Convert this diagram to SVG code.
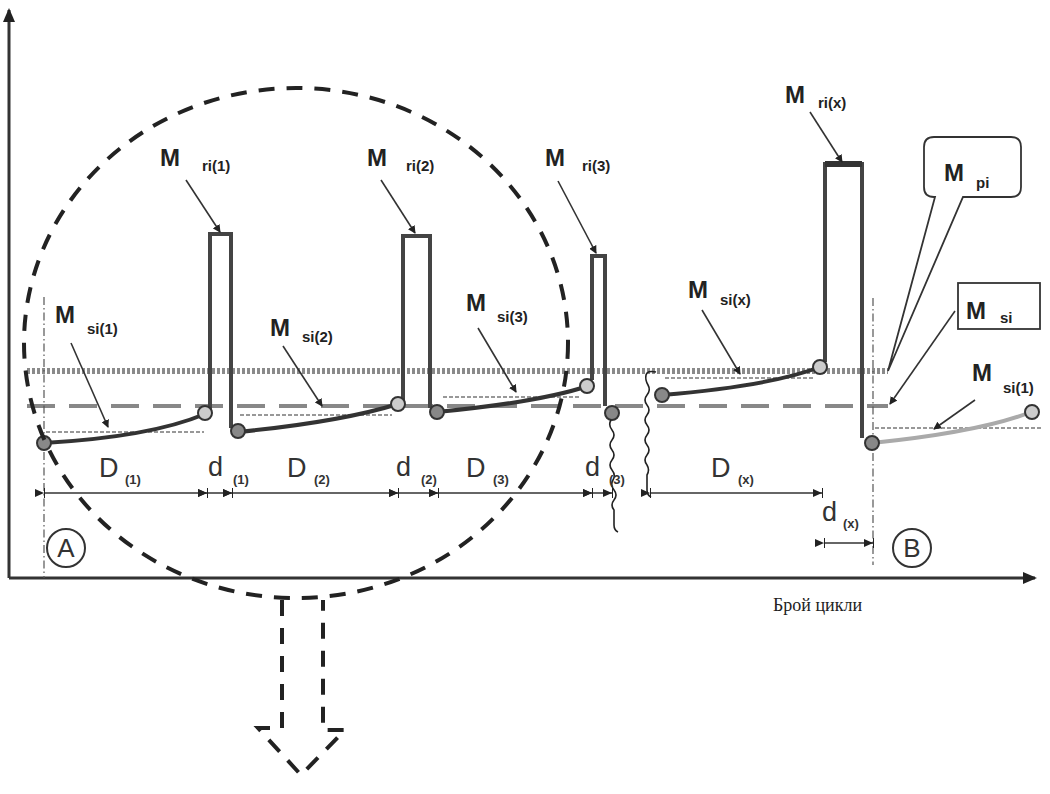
<svg xmlns="http://www.w3.org/2000/svg" width="1050" height="794" viewBox="0 0 1050 794">
<defs>
<marker id="ah" markerWidth="8" markerHeight="8" refX="7" refY="4" orient="auto" markerUnits="userSpaceOnUse"><path d="M0,0 L8,4 L0,8 z" fill="#222"/></marker>
<marker id="axh" markerWidth="14" markerHeight="12" refX="12" refY="6" orient="auto" markerUnits="userSpaceOnUse"><path d="M0,0 L14,6 L0,12 z" fill="#222"/></marker>
<marker id="dh" markerWidth="10" markerHeight="10" refX="9" refY="5" orient="auto" markerUnits="userSpaceOnUse"><path d="M0,1 L9,5 L0,9 z M9,0 L10,0 L10,10 L9,10 z" fill="#222"/></marker>
<style>
.axis{stroke:#333;stroke-width:3;fill:none}
.dot{stroke:#8a8a8a;stroke-width:6;stroke-dasharray:3 2;fill:none}
.dash{stroke:#888;stroke-width:4;stroke-dasharray:28 14;fill:none}
.dd{stroke:#555;stroke-width:1.2;stroke-dasharray:8 3 1.5 3;fill:none}
.thin{stroke:#333;stroke-width:1.2;stroke-dasharray:4 2;fill:none}
.pulse{stroke:#444;stroke-width:4;fill:none}
.curve{stroke:#333;stroke-width:4;fill:none}
.ptr{stroke:#333;stroke-width:1.6;fill:none;marker-end:url(#ah)}
.dim{stroke:#333;stroke-width:1.5;fill:none;marker-start:url(#dh);marker-end:url(#dh)}
.cd{fill:#888;stroke:#333;stroke-width:2}
.cl{fill:#ccc;stroke:#333;stroke-width:2}
.big{stroke:#222;stroke-width:4;stroke-dasharray:16 12;fill:none}
.wave{stroke:#222;stroke-width:1.6;fill:none}
.M{font-family:"Liberation Sans",Arial,sans-serif;font-weight:bold;font-size:24px;fill:#222}
.s{font-family:"Liberation Sans",Arial,sans-serif;font-weight:bold;font-size:15px;fill:#222}
.D{font-family:"Liberation Sans",Arial,sans-serif;font-size:27px;fill:#333}
.ds{font-family:"Liberation Sans",Arial,sans-serif;font-weight:bold;font-size:13px;fill:#333}
.L{font-family:"Liberation Sans",Arial,sans-serif;font-size:26px;fill:#333}
</style>
</defs>
<g id="axes">
<line class="axis" x1="9" y1="578" x2="9" y2="10" marker-end="url(#axh)"/>
<line class="axis" x1="9" y1="578" x2="1035" y2="578" marker-end="url(#axh)"/>
<text x="773" y="611" font-family="Liberation Serif,serif" font-size="18" fill="#222">Брой  цикли</text>
</g>
<g id="levels">
<line class="dot" x1="27" y1="371" x2="888" y2="371"/>
<line class="dash" x1="27" y1="406" x2="888" y2="406"/>
<line class="dd" x1="44" y1="297" x2="44" y2="578"/>
<line class="dd" x1="873" y1="298" x2="873" y2="565"/>
</g>
<g id="thin-refs">
<line class="thin" x1="46" y1="432" x2="204" y2="432"/>
<line class="thin" x1="240" y1="415" x2="392" y2="415"/>
<line class="thin" x1="443" y1="397" x2="580" y2="397"/>
<line class="thin" x1="665" y1="378" x2="815" y2="378"/>
<line class="thin" x1="875" y1="428" x2="1042" y2="428"/>
</g>
<g id="pulses">
<path class="pulse" d="M210,410 V234 H231 V428"/>
<path class="pulse" d="M403,400 V236 H430 V408"/>
<path class="pulse" d="M592,380 V256 H605 V406"/>
<path class="pulse" d="M825,362 V164 H862 V438"/>
<line x1="825" y1="164" x2="862" y2="164" stroke="#333" stroke-width="6"/>
</g>
<g id="curves">
<path class="curve" d="M44,443 Q150,437 205,414"/>
<path class="curve" d="M238,432 Q340,422 398,404"/>
<path class="curve" d="M437,412 Q540,402 588,386"/>
<path class="curve" d="M662,395 Q770,386 820,367"/>
<path d="M872,443 Q980,432 1031,412" stroke="#aaa" stroke-width="4" fill="none"/>
</g>
<g id="points">
<circle class="cd" cx="44" cy="443" r="7"/>
<circle class="cl" cx="205" cy="413" r="7"/>
<circle class="cd" cx="238" cy="431" r="7"/>
<circle class="cl" cx="398" cy="404" r="7"/>
<circle class="cd" cx="437" cy="412" r="7"/>
<circle class="cl" cx="587" cy="386" r="7"/>
<circle class="cd" cx="612" cy="413" r="7"/>
<circle class="cd" cx="662" cy="395" r="7"/>
<circle class="cl" cx="820" cy="367" r="7"/>
<circle class="cd" cx="872" cy="443" r="7"/>
<circle class="cl" cx="1032" cy="412" r="7"/>
</g>
<g id="breaks">
<path class="wave" d="M611,420 q-3,5 1,10 q4,5 0,10 q-4,5 0,10 q4,5 0,10 q-4,5 0,10 q4,5 1,10 q-3,5 1,10 q4,5 0,10 q-4,5 0,10 v15 q0,5 4,7"/>
<path class="wave" d="M656,372 q-9,-2 -10,3 q-1,5 2,10 q3,5 -1,10 q-4,5 0,10 q4,5 0,10 q-4,5 0,10 q4,5 0,10 q-4,5 0,10 q4,5 0,10 q-4,5 0,10 q3,5 0,10 v15 q0,5 4,7"/>
</g>
<g id="dimensions">
<line class="dim" x1="44" y1="493" x2="207" y2="493"/>
<line class="dim" x1="207" y1="493" x2="232" y2="493"/>
<line class="dim" x1="232" y1="493" x2="398" y2="493"/>
<line class="dim" x1="398" y1="493" x2="438" y2="493"/>
<line class="dim" x1="438" y1="493" x2="592" y2="493"/>
<line class="dim" x1="592" y1="493" x2="612" y2="493"/>
<line class="dim" x1="650" y1="493" x2="822" y2="493"/>
<line class="dim" x1="824" y1="543" x2="873" y2="543"/>
</g>
<g id="dim-labels">
<text class="D" x="99" y="477">D</text><text class="ds" x="125" y="484">(1)</text>
<text class="D" x="208" y="476">d</text><text class="ds" x="233" y="484">(1)</text>
<text class="D" x="287" y="477">D</text><text class="ds" x="314" y="484">(2)</text>
<text class="D" x="396" y="476">d</text><text class="ds" x="421" y="484">(2)</text>
<text class="D" x="466" y="477">D</text><text class="ds" x="493" y="484">(3)</text>
<text class="D" x="585" y="476">d</text><text class="ds" x="609" y="484">(3)</text>
<text class="D" x="711" y="477">D</text><text class="ds" x="738" y="484">(x)</text>
<text class="D" x="822" y="521">d</text><text class="ds" x="843" y="528">(x)</text>
</g>
<g id="label-A"><circle cx="66" cy="548" r="19" fill="#fff" stroke="#333" stroke-width="2"/><text class="L" x="66" y="557" text-anchor="middle">A</text></g>
<g id="label-B"><circle cx="912" cy="548" r="19" fill="#fff" stroke="#333" stroke-width="2"/><text class="L" x="912" y="557" text-anchor="middle">B</text></g>
<g id="label-Mri1"><text class="M" x="160" y="166">M</text><text class="s" x="202" y="171">ri(1)</text></g>
<g id="label-Mri2"><text class="M" x="367" y="166">M</text><text class="s" x="406" y="171">ri(2)</text></g>
<g id="label-Mri3"><text class="M" x="545" y="166">M</text><text class="s" x="582" y="171">ri(3)</text></g>
<g id="label-Mrix"><text class="M" x="785" y="103">M</text><text class="s" x="818" y="108">ri(x)</text></g>
<g id="label-Msi1"><text class="M" x="55" y="323">M</text><text class="s" x="87" y="334">si(1)</text></g>
<g id="label-Msi2"><text class="M" x="270" y="336">M</text><text class="s" x="302" y="342">si(2)</text></g>
<g id="label-Msi3"><text class="M" x="466" y="311">M</text><text class="s" x="497" y="322">si(3)</text></g>
<g id="label-Msix"><text class="M" x="688" y="298">M</text><text class="s" x="720" y="305">si(x)</text></g>
<g id="label-Msi1b"><text class="M" x="972" y="381">M</text><text class="s" x="1003" y="393">si(1)</text></g>
<g id="label-Mpi">
<path d="M934,137 H1011 Q1021,137 1021,147 V187 Q1021,197 1011,197 H963 L888,371 L935,197 H934 Q924,197 924,187 V147 Q924,137 934,137 z" fill="#fff" stroke="#333" stroke-width="1.8"/>
<text class="M" x="944" y="181">M</text><text class="s" x="976" y="188">pi</text>
</g>
<g id="label-Msi">
<rect x="958" y="283" width="82" height="46" fill="#fff" stroke="#333" stroke-width="1.8"/>
<text class="M" x="966" y="319">M</text><text class="s" x="1000" y="323">si</text>
</g>
<g id="connectors">
<line class="ptr" x1="186" y1="180" x2="220" y2="232"/>
<line class="ptr" x1="381" y1="180" x2="415" y2="233"/>
<line class="ptr" x1="558" y1="181" x2="596" y2="253"/>
<line class="ptr" x1="810" y1="112" x2="842" y2="162"/>
<line class="ptr" x1="71" y1="343" x2="108" y2="427"/>
<line class="ptr" x1="283" y1="346" x2="322" y2="406"/>
<line class="ptr" x1="478" y1="328" x2="516" y2="392"/>
<line class="ptr" x1="702" y1="310" x2="740" y2="374"/>
<line class="ptr" x1="955" y1="311" x2="890" y2="404"/>
<line class="ptr" x1="975" y1="400" x2="934" y2="429"/>
</g>
<g id="zoom-region">
<ellipse class="big" cx="296" cy="343" rx="272" ry="255"/>
<path class="big" d="M282,600 V728 H258 L301,775 L345,730 H323 V600" stroke-width="3.5"/>
</g>
</svg>
